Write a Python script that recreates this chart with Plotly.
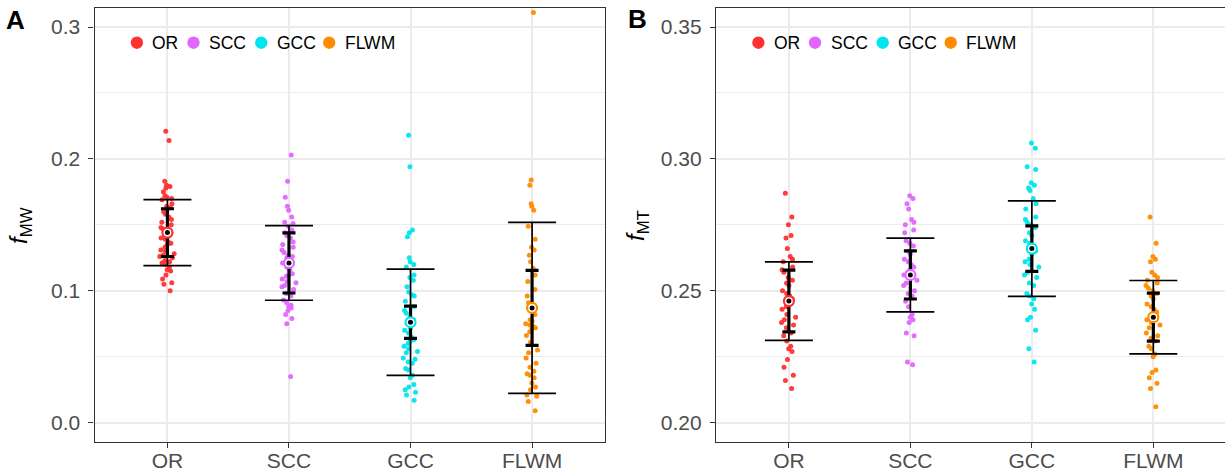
import plotly.graph_objects as go

# ---------------- data ----------------
categories = ["OR", "SCC", "GCC", "FLWM"]
colors = ["#FF3030", "#E066FF", "#00E5EE", "#FF8C00"]

# Panel A: f_MW individual values
a_or = [0.221, 0.214, 0.183, 0.180, 0.179, 0.178, 0.175, 0.172, 0.171, 0.170, 0.169, 0.166,
        0.164, 0.163, 0.160, 0.158, 0.156, 0.154, 0.152, 0.150, 0.148, 0.147, 0.146, 0.144,
        0.142, 0.141, 0.140, 0.139, 0.137, 0.136, 0.135, 0.133, 0.131, 0.130, 0.128, 0.127,
        0.126, 0.125, 0.123, 0.122, 0.121, 0.120, 0.118, 0.116, 0.115, 0.112, 0.109, 0.106,
        0.105, 0.100]
a_scc = [0.203, 0.183, 0.171, 0.164, 0.161, 0.156, 0.152, 0.151, 0.149, 0.146, 0.144, 0.142,
         0.140, 0.137, 0.135, 0.133, 0.131, 0.129, 0.127, 0.126, 0.125, 0.123, 0.121, 0.118,
         0.116, 0.113, 0.112, 0.111, 0.109, 0.107, 0.106, 0.104, 0.103, 0.101, 0.098, 0.096,
         0.093, 0.091, 0.089, 0.088, 0.087, 0.085, 0.082, 0.079, 0.075, 0.035]
a_gcc = [0.218, 0.194, 0.146, 0.144, 0.141, 0.125, 0.122, 0.120, 0.118, 0.112, 0.110, 0.108,
         0.103, 0.099, 0.097, 0.096, 0.092, 0.088, 0.085, 0.083, 0.080, 0.078, 0.075, 0.072,
         0.070, 0.068, 0.065, 0.063, 0.062, 0.060, 0.058, 0.056, 0.054, 0.053, 0.049, 0.048,
         0.046, 0.045, 0.041, 0.040, 0.036, 0.034, 0.029, 0.027, 0.025, 0.023, 0.021, 0.017]
a_flwm = [0.311, 0.184, 0.180, 0.166, 0.164, 0.161, 0.149, 0.139, 0.133, 0.131, 0.127, 0.122,
          0.117, 0.112, 0.107, 0.101, 0.096, 0.091, 0.086, 0.082, 0.078, 0.077, 0.075, 0.074,
          0.073, 0.072, 0.071, 0.069, 0.066, 0.061, 0.055, 0.053, 0.049, 0.045, 0.042, 0.039,
          0.037, 0.036, 0.034, 0.030, 0.027, 0.025, 0.021, 0.020, 0.016, 0.009]

# Panel B: f_MT individual values
b_or = [0.287, 0.278, 0.275, 0.271, 0.270, 0.266, 0.263, 0.262, 0.261, 0.259, 0.258, 0.257,
        0.255, 0.254, 0.253, 0.252, 0.250, 0.249, 0.248, 0.247, 0.245, 0.244, 0.243, 0.241,
        0.240, 0.239, 0.238, 0.237, 0.236, 0.234, 0.233, 0.231, 0.229, 0.228, 0.227, 0.224,
        0.221, 0.218, 0.216, 0.213]
b_scc = [0.286, 0.285, 0.283, 0.281, 0.277, 0.276, 0.275, 0.273, 0.272, 0.269, 0.268, 0.267,
         0.265, 0.264, 0.262, 0.261, 0.260, 0.259, 0.258, 0.257, 0.256, 0.255, 0.254, 0.253,
         0.252, 0.250, 0.249, 0.248, 0.246, 0.244, 0.241, 0.240, 0.239, 0.238, 0.234, 0.233,
         0.223, 0.222]
b_gcc = [0.306, 0.304, 0.297, 0.296, 0.291, 0.290, 0.289, 0.288, 0.285, 0.283, 0.281, 0.278,
         0.277, 0.276, 0.275, 0.274, 0.272, 0.271, 0.269, 0.268, 0.267, 0.265, 0.264, 0.262,
         0.261, 0.260, 0.259, 0.257, 0.256, 0.255, 0.253, 0.252, 0.249, 0.248, 0.247, 0.245,
         0.243, 0.240, 0.239, 0.235, 0.228, 0.223]
b_flwm = [0.278, 0.268, 0.263, 0.262, 0.261, 0.257, 0.256, 0.255, 0.254, 0.253, 0.252, 0.251,
          0.250, 0.249, 0.248, 0.247, 0.245, 0.244, 0.243, 0.242, 0.241, 0.240, 0.239, 0.238,
          0.237, 0.236, 0.234, 0.233, 0.232, 0.231, 0.229, 0.228, 0.226, 0.225, 0.220, 0.219,
          0.217, 0.215, 0.213, 0.206]

# summary statistics: mean, outer (wide cap) error, inner (narrow cap) error
a_mean = [0.1441, 0.1211, 0.0761, 0.0870]
a_outer = [0.0250, 0.0283, 0.0403, 0.0648]
a_inner = [0.0181, 0.0228, 0.0122, 0.0284]
b_mean = [0.2461, 0.2560, 0.2660, 0.2400]
b_outer = [0.0149, 0.0140, 0.0181, 0.0139]
b_inner = [0.0117, 0.0091, 0.0086, 0.0091]

a_tick_vals = [0.0, 0.1, 0.2, 0.3]
a_tick_text = ["0.0", "0.1", "0.2", "0.3"]
b_tick_vals = [0.20, 0.25, 0.30, 0.35]
b_tick_text = ["0.20", "0.25", "0.30", "0.35"]

# ---------------- figure ----------------
W, H = 1225, 472
FONT = "Liberation Sans, Arial, Helvetica, sans-serif"
GRID = "#EBEBEB"
AXC = "#333333"

fig = go.Figure()
positions = [1, 2, 3, 4]

panels = [
    ("x", "y", [a_or, a_scc, a_gcc, a_flwm], a_mean, a_outer, a_inner),
    ("x2", "y2", [b_or, b_scc, b_gcc, b_flwm], b_mean, b_outer, b_inner),
]

for xa, ya, groups, means, outer, inner in panels:
    for pos, vals, col in zip(positions, groups, colors):
        fig.add_trace(go.Box(
            x0=pos, y=vals, xaxis=xa, yaxis=ya,
            boxpoints="all", jitter=1, pointpos=0, width=0.13,
            line=dict(width=0), fillcolor="rgba(0,0,0,0)",
            marker=dict(color=col, size=5, opacity=0.95),
            showlegend=False, hoverinfo="y",
        ))
    # outer error bars (wide caps)
    fig.add_trace(go.Scatter(
        x=positions, y=means, xaxis=xa, yaxis=ya, mode="markers",
        marker=dict(size=1, color="rgba(0,0,0,0)"),
        error_y=dict(type="data", array=outer, visible=True, color="black",
                     thickness=1.7, width=24),
        showlegend=False, hoverinfo="skip",
    ))
    # inner error bars (narrow caps, thick)
    fig.add_trace(go.Scatter(
        x=positions, y=means, xaxis=xa, yaxis=ya, mode="markers",
        marker=dict(size=1, color="rgba(0,0,0,0)"),
        error_y=dict(type="data", array=inner, visible=True, color="black",
                     thickness=3.2, width=6.5),
        showlegend=False, hoverinfo="skip",
    ))
    # mean ring
    fig.add_trace(go.Scatter(
        x=positions, y=means, xaxis=xa, yaxis=ya, mode="markers",
        marker=dict(size=10, color="white", line=dict(color=colors, width=2.2)),
        showlegend=False, hoverinfo="y",
    ))
    # mean dot
    fig.add_trace(go.Scatter(
        x=positions, y=means, xaxis=xa, yaxis=ya, mode="markers",
        marker=dict(size=5, color="black"),
        showlegend=False, hoverinfo="skip",
    ))

# panel geometry in pixels
A_L, A_R = 94.5, 605.0
B_L, B_R = 716.0, 1225.0
TOP, BOT = 7.5, 442.3

def px_x(p):
    return p / W

def px_y(p):
    return 1 - p / H

xcommon = dict(
    tickvals=positions, ticktext=categories, showgrid=True, gridcolor=GRID, gridwidth=1.5,
    zeroline=False, showline=True, linecolor=AXC, linewidth=1.2, mirror=True,
    ticks="outside", ticklen=5, tickwidth=1.2, tickcolor=AXC, automargin=False,
    ticklabelstandoff=-6,
    tickfont=dict(family=FONT, size=21, color="#4D4D4D"),
)
ycommon = dict(
    showgrid=True, gridcolor=GRID, gridwidth=1.5, zeroline=False, showline=True,
    linecolor=AXC, linewidth=1.2, ticks="outside", ticklen=5, tickwidth=1.2,
    tickcolor=AXC, tickfont=dict(family=FONT, size=21, color="#4D4D4D"),
    ticklabelstandoff=4, automargin=False,
)

fig.update_layout(
    width=W, height=H, margin=dict(l=0, r=0, t=0, b=0, autoexpand=False),
    paper_bgcolor="white", plot_bgcolor="white",
    font=dict(family=FONT), showlegend=False,
    xaxis=dict(domain=[px_x(A_L), px_x(A_R)], range=[0.4, 4.6], anchor="y", **xcommon),
    yaxis=dict(domain=[px_y(BOT), px_y(TOP)], range=[-0.0149, 0.3148], anchor="x",
               tickvals=a_tick_vals, ticktext=a_tick_text, mirror=True,
               minor=dict(tickvals=[0.05, 0.15, 0.25], showgrid=True, gridcolor=GRID, gridwidth=1.0),
               **ycommon),
    xaxis2=dict(domain=[px_x(B_L), px_x(B_R)], range=[0.4, 4.59], anchor="y2", **xcommon),
    yaxis2=dict(domain=[px_y(BOT), px_y(TOP)], range=[0.19257, 0.35739], anchor="x2",
                tickvals=b_tick_vals, ticktext=b_tick_text, mirror=False,
                minor=dict(tickvals=[0.225, 0.275, 0.325], showgrid=True, gridcolor=GRID, gridwidth=1.0),
                **ycommon),
)

annotations = []
shapes = []

# panel tags and axis titles
annotations.append(dict(text="<b>A</b>", x=px_x(15.5), y=px_y(20), xref="paper", yref="paper",
                        showarrow=False, font=dict(family=FONT, size=26, color="black"),
                        xanchor="center", yanchor="middle"))
annotations.append(dict(text="<b>B</b>", x=px_x(637), y=px_y(19), xref="paper", yref="paper",
                        showarrow=False, font=dict(family=FONT, size=26, color="black"),
                        xanchor="center", yanchor="middle"))
for xt, lab in [(20, "MW"), (637, "MT")]:
    annotations.append(dict(text="<i>f</i><sub>" + lab + "</sub>", x=px_x(xt), y=px_y(226),
                            xref="paper", yref="paper", showarrow=False, textangle=-90,
                            font=dict(family=FONT, size=24, color="black"),
                            xanchor="center", yanchor="middle"))

# in-panel legends
circle_offsets = [42.4, 99.0, 166.7, 234.7]
LEG_Y = 42.7
for left in (A_L, B_L):
    for off, lab, col in zip(circle_offsets, categories, colors):
        cx = left + off
        shapes.append(dict(type="circle", xref="paper", yref="paper",
                           xsizemode="pixel", ysizemode="pixel",
                           xanchor=px_x(cx), yanchor=px_y(LEG_Y),
                           x0=-6.2, x1=6.2, y0=-6.2, y1=6.2,
                           fillcolor=col, line=dict(width=0)))
        annotations.append(dict(text=lab, x=px_x(cx + 13.5), y=px_y(LEG_Y),
                                xref="paper", yref="paper", showarrow=False,
                                xanchor="left", yanchor="middle",
                                font=dict(family=FONT, size=17.5, color="black")))

fig.update_layout(annotations=annotations, shapes=shapes)
fig.write_html(
    "out.html",
    config={"displayModeBar": False},
    post_script="document.body.style.margin='0';document.body.style.overflow='hidden';",
)
